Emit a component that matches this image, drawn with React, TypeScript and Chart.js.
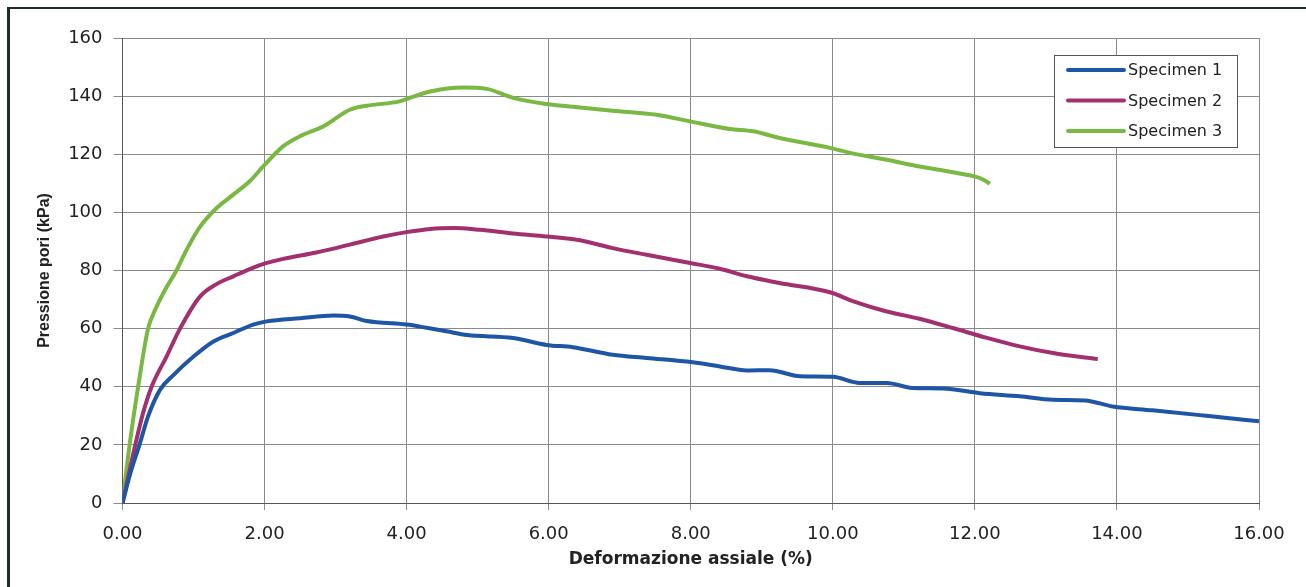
import React, { useEffect, useRef } from "react";
import { Chart, registerables } from "chart.js";

Chart.register(...registerables);

// ---- Data ----
const seriesLabels = ["Specimen 1", "Specimen 2", "Specimen 3"];

const s1X = [0, 0.12, 0.24, 0.36, 0.53, 0.72, 1.0, 1.28, 1.56, 1.84, 2.03, 2.5, 2.97, 3.2, 3.44, 3.63, 4.0, 4.28, 4.56, 4.85, 5.5, 5.97, 6.34, 6.9, 7.38, 8.03, 8.41, 8.79, 9.11, 9.54, 10.0, 10.38, 10.76, 11.12, 11.55, 12.07, 12.63, 13.1, 13.55, 13.94, 14.5, 15.26, 16.0];
const s1Y = [0, 11, 20.1, 29.8, 39.0, 44.1, 50.4, 55.6, 58.5, 61.4, 62.5, 63.6, 64.5, 64.2, 62.6, 62.1, 61.4, 60.3, 59.1, 57.8, 56.8, 54.4, 53.6, 51.0, 49.9, 48.4, 47.0, 45.6, 45.7, 43.6, 43.4, 41.3, 41.3, 39.6, 39.4, 37.8, 36.7, 35.5, 35.3, 33.2, 31.9, 30.0, 28.1];

const s2X = [0, 0.18, 0.29, 0.41, 0.62, 0.81, 1.09, 1.33, 1.56, 1.79, 2.03, 2.26, 2.73, 3.2, 3.67, 4.0, 4.33, 4.66, 5.03, 5.5, 5.97, 6.44, 6.9, 7.38, 7.99, 8.41, 8.79, 9.25, 9.96, 10.29, 10.76, 11.22, 11.69, 12.17, 12.63, 13.1, 13.73];
const s2Y = [0, 20, 31, 40, 50.4, 60, 71, 75.4, 78.0, 80.5, 82.6, 84.0, 86.2, 88.9, 91.7, 93.2, 94.3, 94.6, 94.0, 92.7, 91.7, 90.4, 87.7, 85.4, 82.6, 80.6, 78.0, 75.7, 72.5, 69.4, 65.9, 63.4, 60.2, 56.8, 53.9, 51.6, 49.5];

const s3X = [0, 0.1, 0.22, 0.36, 0.46, 0.6, 0.76, 0.9, 1.09, 1.33, 1.56, 1.79, 1.98, 2.26, 2.5, 2.83, 3.2, 3.44, 3.9, 4.0, 4.33, 4.79, 5.13, 5.5, 5.97, 6.44, 6.9, 7.52, 7.99, 8.55, 8.88, 9.25, 9.96, 10.29, 10.76, 11.22, 11.69, 12.02, 12.14, 12.21];
const s3Y = [0, 20, 40, 60, 66.5, 73.4, 80, 87, 95, 101.6, 106.1, 110.7, 115.8, 122.7, 126.2, 129.6, 135.3, 136.7, 138.2, 139.0, 141.6, 143.0, 142.5, 139.4, 137.3, 136.1, 135.0, 133.6, 131.3, 128.7, 127.9, 125.6, 122.2, 120.2, 118.1, 115.8, 113.8, 112.2, 111.0, 109.8];

const xTicks = [0, 2, 4, 6, 8, 10, 12, 14, 16];
const yTicks = [0, 20, 40, 60, 80, 100, 120, 140, 160];

const colors = ["#1e55a5", "#a2306f", "#79b842"];

const zip = (xs: number[], ys: number[]) => xs.map((x, i) => ({ x, y: ys[i] }));

const boxLegend = {
  id: "boxLegend",
  afterDraw(chart: any) {
    const ctx = chart.ctx;
    const left = 1054, top = 55, w = 183, h = 92;
    ctx.save();
    ctx.fillStyle = "#ffffff";
    ctx.fillRect(left, top, w, h);
    ctx.strokeStyle = "#555555";
    ctx.lineWidth = 1;
    ctx.strokeRect(left + 0.5, top + 0.5, w, h);
    ctx.font = "16px 'DejaVu Sans'";
    ctx.textBaseline = "middle";
    ctx.textAlign = "left";
    chart.data.datasets.forEach((ds: any, i: number) => {
      const cy = top + 15 + i * 30.5;
      ctx.strokeStyle = ds.borderColor;
      ctx.lineWidth = 4;
      ctx.lineCap = "round";
      ctx.beginPath();
      ctx.moveTo(1068, cy);
      ctx.lineTo(1124, cy);
      ctx.stroke();
      ctx.fillStyle = "#222222";
      ctx.fillText(ds.label, 1128, cy + 1);
    });
    ctx.restore();
  },
};

export default function App() {
  const ref = useRef<HTMLCanvasElement | null>(null);
  useEffect(() => {
    if (!ref.current) return;
    const chart = new Chart(ref.current, {
      type: "scatter",
      data: {
        datasets: [
          { label: seriesLabels[0], data: zip(s1X, s1Y), borderColor: colors[0], backgroundColor: colors[0] },
          { label: seriesLabels[1], data: zip(s2X, s2Y), borderColor: colors[1], backgroundColor: colors[1] },
          { label: seriesLabels[2], data: zip(s3X, s3Y), borderColor: colors[2], backgroundColor: colors[2] },
        ].map((d) => ({
          ...d,
          showLine: true,
          borderWidth: 4,
          pointRadius: 0,
          pointHoverRadius: 0,
          cubicInterpolationMode: "monotone" as const,
          fill: false,
        })),
      },
      plugins: [boxLegend],
      options: {
        animation: false,
        responsive: false,
        maintainAspectRatio: false,
        layout: { padding: { left: 31, top: 38, right: 47, bottom: 13 } },
        plugins: { legend: { display: false }, tooltip: { enabled: false } },
        scales: {
          x: {
            type: "linear",
            min: 0,
            max: 16,
            afterBuildTicks: (s: any) => { s.ticks = xTicks.map((v) => ({ value: v })); },
            afterFit: (s: any) => { s.height = 71; },
            ticks: {
              callback: (v: any) => Number(v).toFixed(2),
              font: { family: "'DejaVu Sans'", size: 18 },
              color: "#222222",
              padding: 14,
              maxRotation: 0,
            },
            grid: { color: "#8a8a8a", lineWidth: 1, tickLength: 7 },
            border: { color: "#555555", width: 1 },
            title: {
              display: true,
              text: "Deformazione assiale (%)",
              font: { family: "'DejaVu Sans'", size: 17, weight: "bold" },
              color: "#222222",
              padding: { top: 4, bottom: 4 },
            },
          },
          y: {
            type: "linear",
            min: 0,
            max: 160,
            afterBuildTicks: (s: any) => { s.ticks = yTicks.map((v) => ({ value: v })); },
            afterFit: (s: any) => { s.width = 91.5; },
            ticks: {
              font: { family: "'DejaVu Sans'", size: 18 },
              color: "#222222",
              padding: 11,
            },
            grid: { color: "#8a8a8a", lineWidth: 1, tickLength: 9 },
            border: { color: "#555555", width: 1 },
            title: {
              display: true,
              text: "Pressione pori (kPa)",
              font: { family: "'Liberation Sans'", size: 16, weight: "bold" },
              color: "#222222",
              padding: { top: 4, bottom: 4 },
            },
          },
        },
      },
    });
    return () => chart.destroy();
  }, []);

  return (
    <div style={{ position: "absolute", left: 0, top: 0, width: 1306, height: 587, overflow: "hidden", background: "#ffffff" }}>
      <div
        style={{
          position: "absolute",
          left: 7,
          top: 7,
          width: 1299,
          height: 580,
          borderTop: "2px solid #1f2d28",
          borderLeft: "3px solid #1f2d28",
          boxSizing: "border-box",
        }}
      />
      <canvas ref={ref} width={1306} height={587} style={{ position: "absolute", left: 0, top: 0, width: 1306, height: 587 }} />
    </div>
  );
}
